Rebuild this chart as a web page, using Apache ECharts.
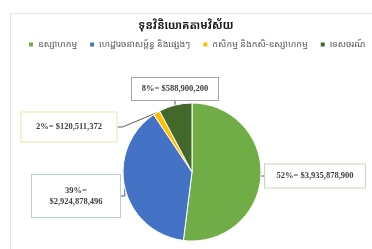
<!DOCTYPE html>
<html>
<head>
<meta charset="utf-8">
<script src="https://cdn.jsdelivr.net/npm/echarts@6/dist/echarts.min.js"></script>
<style>
  html, body { margin: 0; padding: 0; background: #fff; }
  #chart { width: 372px; height: 249px; }
</style>
</head>
<body>
<div id="chart"></div>
<script>
// ទុនវិនិយោគតាមវិស័យ
const categories = ["ឧស្សាហកម្ម", "ហេដ្ឋារចនាសម្ព័ន្ធ និងផ្សេងៗ", "កសិកម្ម និងកសិ-ឧស្សាហកម្ម", "ទេសចរណ៍"];
const values = [3935878900, 2924878496, 120511372, 588900200];
const percentLabels = ["52%", "39%", "2%", "8%"];
const colors = ["#70ad47", "#4472c4", "#ffc000", "#43682b"];

// label box placement (centre px), box size and border colours
const labelPos = [[315, 176], [76, 196], [69, 127], [175, 89]];
const labelBox = [[100, 23], [88, 42], [95, 29], [86, 22]];
const labelBorder = ["#c9d8bd", "#b9cde0", "#f0e2a6", "#a6a6a6"];

const fmtMoney = v => "$" + v.toLocaleString("en-US");

const chart = echarts.init(document.getElementById("chart"), null, { renderer: "canvas" });

chart.setOption({
  animation: false,
  graphic: [{
    type: "rect",
    shape: { x: 10.5, y: 13.5, width: 400, height: 300 },
    style: { fill: "none", stroke: "#e6e6e6", lineWidth: 1 },
    silent: true
  }],
  title: {
    text: "ទុនវិនិយោគតាមវិស័យ",
    left: "center",
    top: 15,
    textStyle: { fontSize: 11, fontWeight: "bold", color: "#1a1a1a", fontFamily: "Noto Sans Khmer, Noto Sans, sans-serif" }
  },
  legend: {
    data: categories,
    top: 40,
    left: 27,
    width: 400,
    padding: 0,
    itemWidth: 6,
    itemHeight: 6,
    itemGap: 11,
    icon: "rect",
    textStyle: { fontSize: 9, color: "#595959", fontFamily: "Noto Sans Khmer, Noto Sans, sans-serif", padding: [0, 0, 0, -1] }
  },
  series: [{
    type: "pie",
    center: [192, 172],
    radius: 69,
    startAngle: 90,
    clockwise: true,
    itemStyle: { borderColor: "#fff", borderWidth: 1 },
    label: {
      show: true,
      overflow: "none",
      align: "center",
      fontFamily: "Liberation Serif, serif",
      fontSize: 8.5,
      fontWeight: "bold",
      color: "#404040",
      backgroundColor: "#fff",
      borderWidth: 1,
      lineHeight: 11
    },
    labelLine: { show: true, length: 5, length2: 5, lineStyle: { color: "#595959", width: 1 } },
    labelLayout: function (p) {
      const pos = labelPos[p.dataIndex];
      return { x: pos[0], y: pos[1], align: "center", verticalAlign: "middle" };
    },
    data: categories.map((name, i) => {
      const lines = i === 1 ? 2 : 1;
      const box = labelBox[i];
      return {
        name: name,
        value: values[i],
        itemStyle: { color: colors[i] },
        label: {
          formatter: i === 1
            ? percentLabels[i] + "=\n" + fmtMoney(values[i])
            : percentLabels[i] + "= " + fmtMoney(values[i]),
          borderColor: labelBorder[i],
          width: box[0] - 2,
          padding: [(box[1] - lines * 11) / 2, 1]
        }
      };
    })
  }]
});
</script>
</body>
</html>
